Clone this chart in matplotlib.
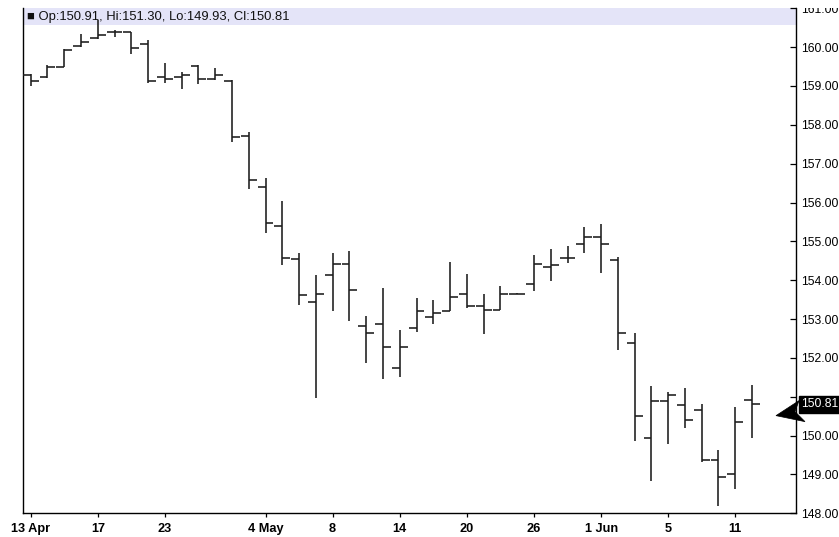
import matplotlib
matplotlib.use("Agg")
import matplotlib.pyplot as plt
import matplotlib.transforms as mtransforms
from matplotlib.patches import Rectangle, Polygon
from matplotlib.ticker import FuncFormatter
import numpy as np

# ---------------- data ----------------
dates = ["2009-04-13", "2009-04-14", "2009-04-15", "2009-04-16", "2009-04-17",
         "2009-04-20", "2009-04-21", "2009-04-22", "2009-04-23", "2009-04-24",
         "2009-04-27", "2009-04-28", "2009-04-29", "2009-04-30", "2009-05-04",
         "2009-05-05", "2009-05-06", "2009-05-07", "2009-05-08", "2009-05-11",
         "2009-05-12", "2009-05-13", "2009-05-14", "2009-05-15", "2009-05-18",
         "2009-05-19", "2009-05-20", "2009-05-21", "2009-05-22", "2009-05-25",
         "2009-05-26", "2009-05-27", "2009-05-28", "2009-05-29", "2009-06-01",
         "2009-06-02", "2009-06-03", "2009-06-04", "2009-06-05", "2009-06-08",
         "2009-06-09", "2009-06-10", "2009-06-11", "2009-06-12"]

opens = [159.28, 159.23, 159.50, 160.03, 160.24, 160.38, 160.38, 160.09, 159.23, 159.23,
         159.52, 159.17, 159.13, 157.71, 156.40, 155.39, 154.54, 153.45, 154.13, 154.42,
         152.81, 152.87, 151.74, 152.78, 153.05, 153.20, 153.65, 153.33, 153.24, 153.65,
         153.91, 154.35, 154.58, 154.92, 155.11, 154.53, 152.38, 149.94, 150.88, 150.80,
         150.66, 149.38, 149.01, 150.91]
highs = [159.30, 159.55, 159.96, 160.35, 160.69, 160.44, 160.38, 160.18, 159.58, 159.36,
         159.53, 159.46, 159.15, 157.81, 156.64, 156.05, 154.70, 154.14, 154.70, 154.74,
         153.09, 153.79, 152.72, 153.54, 153.48, 154.46, 154.15, 153.65, 153.84, 153.66,
         154.64, 154.81, 154.89, 155.38, 155.45, 154.59, 152.63, 151.27, 151.11, 151.23,
         150.81, 149.63, 150.74, 151.30]
lows = [159.00, 159.21, 159.48, 160.01, 160.22, 160.27, 159.82, 159.08, 159.07, 158.93,
        159.04, 159.15, 157.56, 156.36, 155.22, 154.40, 153.37, 150.98, 153.22, 152.96,
        151.87, 151.46, 151.50, 152.66, 152.88, 153.20, 153.29, 152.62, 153.24, 153.64,
        153.71, 153.99, 154.44, 154.71, 154.19, 152.21, 149.87, 148.82, 149.78, 150.20,
        149.31, 148.18, 148.62, 149.93]
closes = [159.13, 159.49, 159.92, 160.14, 160.31, 160.38, 159.98, 159.12, 159.17, 159.28,
          159.17, 159.28, 157.69, 156.59, 155.47, 154.58, 153.61, 153.64, 154.42, 153.75,
          152.63, 152.29, 152.29, 153.20, 153.16, 153.56, 153.33, 153.24, 153.65, 153.65,
          154.42, 154.40, 154.58, 155.11, 154.92, 152.63, 150.51, 150.88, 151.05, 150.39,
          149.38, 148.94, 150.35, 150.81]

x_tick_idx = [0, 4, 8, 14, 18, 22, 26, 30, 34, 38, 42]
x_tick_labels = ["13 Apr", "17", "23", "4 May", "8", "14", "20", "26", "1 Jun", "5", "11"]
y_ticks = list(range(148, 162))

# ---------------- figure ----------------
W, H = 839, 537
fig = plt.figure(figsize=(W / 100, H / 100), dpi=100)
ax_l, ax_r, ax_t, ax_b = 22.7, 796.0, 8.3, 513.3
ax = fig.add_axes([ax_l / W, (H - ax_b) / H, (ax_r - ax_l) / W, (ax_b - ax_t) / H])

reg = ["Liberation Sans", "DejaVu Sans"]

xi = np.arange(len(opens))
bar_col = "#1c1c1c"
lw = 1.15
hw = 0.47
ax.vlines(xi, lows, highs, color=bar_col, lw=lw, zorder=3)
ax.hlines(opens, xi - hw, xi, color=bar_col, lw=lw, zorder=3)
ax.hlines(closes, xi, xi + hw, color=bar_col, lw=lw, zorder=3)

ax.set_xlim(-0.477, 45.62)
ax.set_ylim(148, 161)

# header band
band_h = 16.7 / (ax_b - ax_t)
ax.add_patch(Rectangle((0, 1 - band_h), 1, band_h, transform=ax.transAxes,
                       facecolor="#e4e4f8", edgecolor="none", zorder=1))
hdr = "\u25a0 Op:{:.2f}, Hi:{:.2f}, Lo:{:.2f}, Cl:{:.2f}".format(
    opens[-1], highs[-1], lows[-1], closes[-1])
ax.text(0.006, 1 - band_h / 2, hdr, transform=ax.transAxes, va="center", ha="left",
        fontsize=9.4, family=reg, color="#111111", zorder=2)

# spines
ax.spines["top"].set_visible(False)
for s in ("left", "right", "bottom"):
    ax.spines[s].set_color("black")
    ax.spines[s].set_linewidth(1.0)

last = closes[-1]

# y axis on right; the label under the last-price box is not shown
ax.yaxis.tick_right()
ax.set_yticks(y_ticks)
ax.yaxis.set_major_formatter(
    FuncFormatter(lambda v, p: "" if abs(v - last) < 0.45 else "{:.2f}".format(v)))
ax.tick_params(axis="y", direction="in", length=4.5, width=0.9, pad=3.5,
               labelsize=8.7, colors="black")
for lab in ax.get_yticklabels():
    lab.set_family(reg)

# x axis
ax.set_xticks(x_tick_idx)
ax.set_xticklabels(x_tick_labels)
ax.tick_params(axis="x", direction="out", length=3, width=0.9, pad=4,
               labelsize=9.2, colors="black")
for lab in ax.get_xticklabels():
    lab.set_family(reg)
    lab.set_fontweight("bold")

# last price box and arrow
blend = mtransforms.blended_transform_factory(ax.transAxes, ax.transData)
ax.text(1.0 + 5.0 / (ax_r - ax_l), last, "{:.2f}".format(last), transform=blend,
        va="center", ha="left", fontsize=8.7, family=reg, color="white",
        bbox=dict(boxstyle="square,pad=0.2", facecolor="black", edgecolor="black"),
        clip_on=False, zorder=6)
arrow_tr = fig.dpi_scale_trans + mtransforms.ScaledTranslation(1.0, last, blend)
pts = np.array([(776, 415), (799, 400), (795, 411), (805, 421)], dtype=float)
verts = np.column_stack([(pts[:, 0] - ax_r) / 100.0, -(pts[:, 1] - 403.5) / 100.0])
ax.add_patch(Polygon(verts, closed=True, transform=arrow_tr, facecolor="black",
                     edgecolor="black", lw=0.5, clip_on=False, zorder=7))

# the topmost price label is cut at the image top in the reference
fig.add_artist(Rectangle((ax_r / W + 0.001, (H - ax_t) / H), 1, 0.05,
                         transform=fig.transFigure, facecolor="white",
                         edgecolor="none", zorder=10))

fig.savefig("out.png", dpi=100, facecolor="white")
